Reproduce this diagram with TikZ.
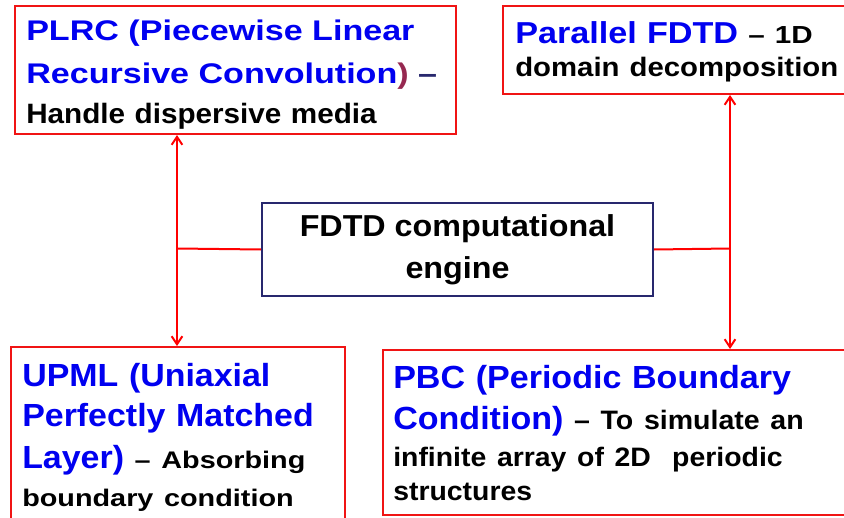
\documentclass[tikz,border=0pt]{standalone}
\usepackage{fontspec}
\setmainfont{Liberation Sans}
\usetikzlibrary{arrows.meta}

\definecolor{linkred}{RGB}{255,0,0}
\definecolor{boxred}{RGB}{240,20,20}
\definecolor{corenavy}{RGB}{40,40,110}
\definecolor{txtblue}{RGB}{0,0,240}
\definecolor{parenred}{RGB}{150,40,80}

\newcommand{\bl}[1]{{\color{txtblue}#1}}
\newcommand{\fs}[2]{\fontsize{#1}{#2}\selectfont}
\newcommand{\widen}[1]{\addfontfeatures{FakeStretch=#1}}

\begin{document}
\begin{tikzpicture}[x=0.75pt,y=-0.75pt]

	\tikzstyle{redbox}=[draw=boxred,
	line width=1.5pt,
	anchor=north west,
	inner sep=0pt
	]
	\tikzstyle{boxtext}=[anchor=north west,
	align=left,
	inner sep=0pt,
	text width=420pt,
	font=\bfseries
	]
	\tikzstyle{corebox}=[draw=corenavy,
	line width=1.5pt,
	anchor=north west,
	align=center,
	inner sep=0pt,
	font=\bfseries\widen{1.066}\fs{22.7}{31.5}
	]
	\tikzstyle{link}=[draw=linkred,
	line width=1.5pt
	]
	\tikzstyle{tip}=[-{Straight Barb[length=6pt,width=8pt,line width=1.5pt]}]

	\useasboundingbox (0,0) rectangle (844,518);

	% boxes
	\node[redbox,minimum width=330.75pt,minimum height=96pt] (plrc) at (14,5) {};
	\node[redbox,minimum width=300pt,minimum height=66pt] (par) at (502,5) {};
	\node[corebox,minimum width=293.25pt,minimum height=69.75pt] (core) at (261,202)
		{FDTD computational\\engine};
	\node[redbox,minimum width=250.5pt,minimum height=132pt] (upml) at (10,346) {};
	\node[redbox,minimum width=375pt,minimum height=123.75pt] (pbc) at (382,349) {};

	% texts
	\node[boxtext,font=\bfseries\fs{21.3}{29.8}] (plrctext) at (26,19.7)
		{{\widen{1.2}\bl{PLRC (Piecewise Linear}}\\[2.7pt]
		{\widen{1.2}\bl{Recursive Convolution}{\color{parenred})} {\color{corenavy}--}}\\
		{\widen{1.06}\fs{21}{29.8}Handle dispersive media}};

	\node[boxtext,font=\bfseries\fs{22.7}{24.5}] (partext) at (515,21.7)
		{{\widen{1.13}\bl{Parallel FDTD}} {\widen{1.2}\fs{18.5}{24.5}-- 1D}\\
		{\widen{1.1}\fs{20}{24.5}domain decomposition}};

	\node[boxtext,font=\bfseries\fs{24}{28.5}] (upmltext) at (22,362.7)
		{{\widen{1.06}\bl{UPML (Uniaxial}}\\[1.7pt]
		{\widen{1.06}\bl{Perfectly Matched}}\\[3pt]
		{\widen{1.06}\bl{Layer)}} {\widen{1.2}\fs{18}{28.5}-- Absorbing}\\
		{\widen{1.2}\fs{18}{28.5}boundary condition}};

	\node[boxtext,font=\bfseries\fs{24}{25}] (pbctext) at (393,365)
		{{\widen{1.064}\bl{PBC (Periodic Boundary}}\\[5.75pt]
		{\widen{1.064}\bl{Condition)}} {\widen{1.07}\fs{20}{25}-- To simulate an}\\[3pt]
		{\widen{1.065}\fs{20}{25}infinite array of 2D\ \ periodic}\\
		{\widen{1.065}\fs{20}{25}structures}};

	% junctions
	\coordinate (jl) at (177,248.5);
	\coordinate (jr) at (730,248.5);

	% connectors
	\draw[link] (core.west) -- (jl);
	\draw[link,tip] (jl) -- (jl |- plrc.south);
	\draw[link,tip] (jl) -- (jl |- upml.north);

	\draw[link] (core.east) -- (jr);
	\draw[link,tip] (jr) -- (jr |- par.south);
	\draw[link,tip] (jr) -- (jr |- pbc.north);

\end{tikzpicture}
\end{document}
